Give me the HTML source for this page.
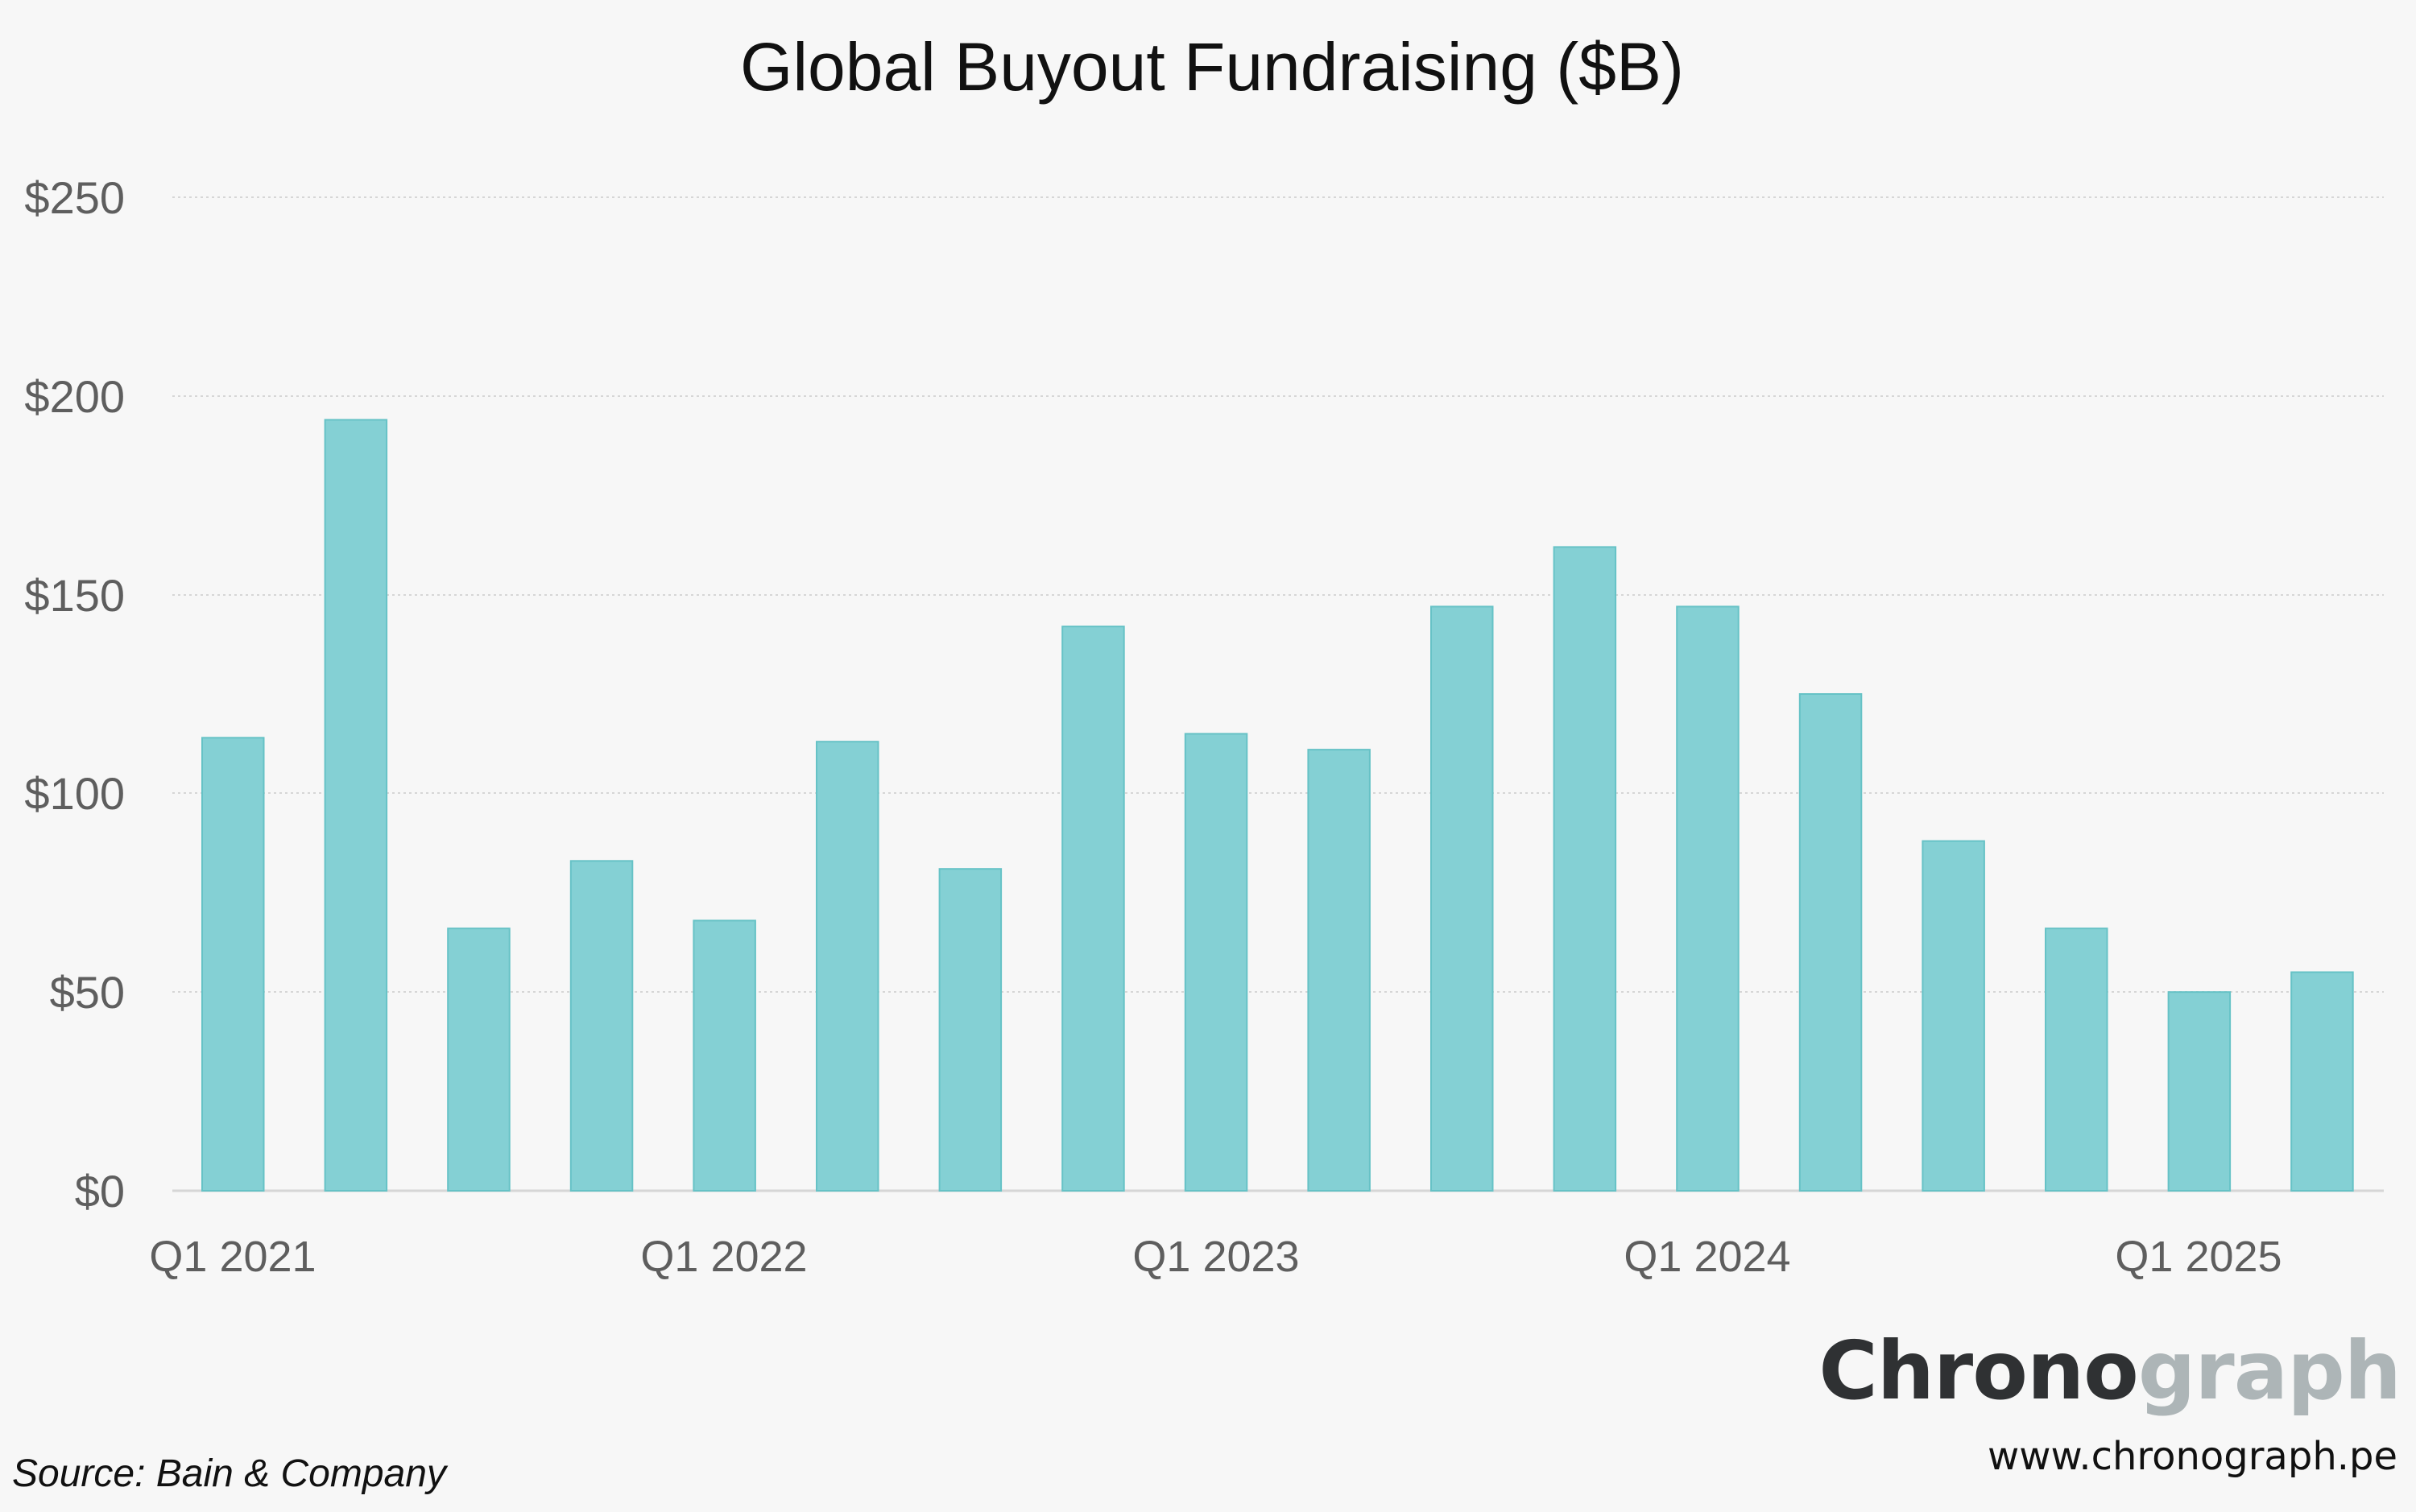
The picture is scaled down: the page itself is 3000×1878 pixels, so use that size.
<!DOCTYPE html>
<html><head><meta charset="utf-8"><style>
html,body{margin:0;padding:0;background:#f7f7f7;}
svg{display:block;}
</style></head><body>
<svg width="3000" height="1878" viewBox="0 0 3000 1878" xmlns="http://www.w3.org/2000/svg">
<rect width="3000" height="1878" fill="#f7f7f7"/>
<text x="1505" y="112" text-anchor="middle" font-family="Liberation Sans, sans-serif" font-size="84" fill="#111">Global Buyout Fundraising ($B)</text>
<g stroke="#d6d6d6" stroke-width="2" stroke-dasharray="3,4">
<line x1="214" x2="2960" y1="245" y2="245"/>
<line x1="214" x2="2960" y1="492" y2="492"/>
<line x1="214" x2="2960" y1="739" y2="739"/>
<line x1="214" x2="2960" y1="985" y2="985"/>
<line x1="214" x2="2960" y1="1232" y2="1232"/>
</g>
<line x1="214" x2="2960" y1="1479" y2="1479" stroke="#d6d6d6" stroke-width="3"/>
<g font-family="Liberation Sans, sans-serif" font-size="56" fill="#5e5e5e" text-anchor="end">
<text x="155" y="265">$250</text>
<text x="155" y="512">$200</text>
<text x="155" y="759">$150</text>
<text x="155" y="1005">$100</text>
<text x="155" y="1252">$50</text>
<text x="155" y="1499">$0</text>
</g>
<g fill="#84d0d4" stroke="#66c2c6" stroke-width="2">
<rect x="251" y="916.3" width="76.5" height="562.7"/>
<rect x="403.6" y="521.4" width="76.5" height="957.6"/>
<rect x="556.2" y="1153.2" width="76.5" height="325.8"/>
<rect x="708.8" y="1069.3" width="76.5" height="409.7"/>
<rect x="861.4" y="1143.4" width="76.5" height="335.6"/>
<rect x="1014" y="921.2" width="76.5" height="557.8"/>
<rect x="1166.6" y="1079.2" width="76.5" height="399.8"/>
<rect x="1319.2" y="778.1" width="76.5" height="700.9"/>
<rect x="1471.8" y="911.4" width="76.5" height="567.6"/>
<rect x="1624.4" y="931.1" width="76.5" height="547.9"/>
<rect x="1777" y="753.4" width="76.5" height="725.6"/>
<rect x="1929.6" y="679.4" width="76.5" height="799.6"/>
<rect x="2082.2" y="753.4" width="76.5" height="725.6"/>
<rect x="2234.8" y="862" width="76.5" height="617"/>
<rect x="2387.4" y="1044.6" width="76.5" height="434.4"/>
<rect x="2540" y="1153.2" width="76.5" height="325.8"/>
<rect x="2692.6" y="1232.2" width="76.5" height="246.8"/>
<rect x="2845.2" y="1207.5" width="76.5" height="271.5"/>
</g>
<g font-family="Liberation Sans, sans-serif" font-size="54" fill="#5e5e5e" text-anchor="middle">
<text x="289" y="1579">Q1 2021</text>
<text x="899" y="1579">Q1 2022</text>
<text x="1510" y="1579">Q1 2023</text>
<text x="2120" y="1579">Q1 2024</text>
<text x="2730" y="1579">Q1 2025</text>
</g>
<text x="15" y="1846" font-family="Liberation Sans, sans-serif" font-style="italic" font-size="48" fill="#111">Source: Bain &amp; Company</text>
<text x="2981" y="1737" text-anchor="end" font-family="DejaVu Sans, sans-serif" font-weight="bold" font-size="100" letter-spacing="-1" fill="#2f3133">Chrono<tspan fill="#adb5b7">graph</tspan></text>
<text x="2977" y="1825" text-anchor="end" font-family="DejaVu Sans, sans-serif" font-size="48" fill="#111">www.chronograph.pe</text>
</svg>
</body></html>
